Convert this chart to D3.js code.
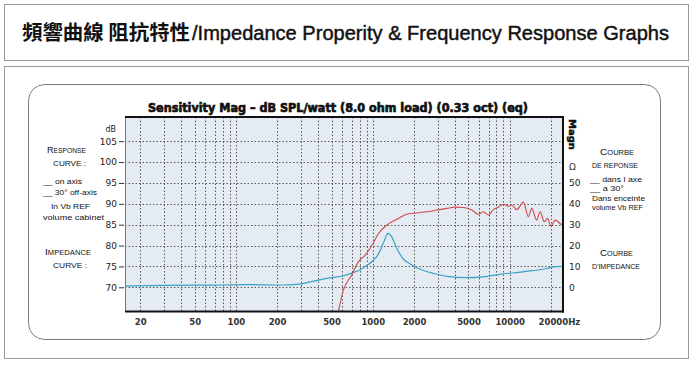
<!DOCTYPE html>
<html>
<head>
<meta charset="utf-8">
<script src="https://cdn.jsdelivr.net/npm/d3@7"></script>
<style>
  body { margin: 0; background: #fff; }
  svg { display: block; }
</style>
</head>
<body>
<div id="chart"></div>
<script>
/*///////////////////////////////////////////////////////////
// Data
///////////////////////////////////////////////////////////*/
var freqTicks = [20, 50, 100, 200, 500, 1000, 2000, 5000, 10000, 20000];
var freqTickLabels = ["20", "50", "100", "200", "500", "1000", "2000", "5000", "10000", "20000Hz"];
var dbTicks = [70, 75, 80, 85, 90, 95, 100, 105];
var ohmTicks = [0, 10, 20, 30, 40, 50];

/*response curve, on axis (Hz, dB)*/
var respFreq = [545, 610, 700, 785, 880, 985, 1100, 1265, 1540, 1770, 2090, 2480, 2930, 3470, 3990, 4590, 5290, 5910, 6430, 6990, 7600, 8270, 9000, 9780, 10340, 11250, 12230, 12580, 13680, 14470, 15740, 16700, 17860, 18890, 19970, 21500, 23340, 24400];
var respDb = [62.0, 69.3, 72.9, 76.1, 77.7, 80.0, 82.9, 84.9, 86.5, 87.5, 87.8, 88.1, 88.5, 88.9, 89.2, 89.1, 88.5, 87.5, 88.1, 87.3, 88.6, 89.2, 89.9, 89.4, 89.7, 88.6, 90.0, 90.4, 86.9, 88.9, 86.1, 88.1, 85.7, 86.5, 84.7, 86.1, 85.3, 84.9];

/*impedance curve (Hz, ohm)*/
var impFreq = [15.5, 20, 30, 50, 80, 120, 150, 200, 250, 300, 350, 400, 500, 600, 700, 800, 900, 1000, 1100, 1200, 1290, 1375, 1500, 1650, 1850, 2100, 2800, 3500, 4800, 6400, 8500, 12500, 18600, 21000, 24500];
var impOhm = [0.6, 0.7, 0.9, 1.0, 1.1, 1.3, 1.2, 1.1, 1.2, 1.6, 2.6, 3.4, 4.6, 5.4, 6.8, 8.2, 10.4, 12.6, 16.0, 21.5, 25.8, 24.2, 18.6, 14.0, 11.4, 9.4, 6.6, 5.2, 4.6, 5.0, 6.2, 7.4, 9.0, 9.8, 10.0];

/*///////////////////////////////////////////////////////////
// Setup
///////////////////////////////////////////////////////////*/
var W = 694, H = 365;
var plot = {left: 125, right: 563, top: 117, bottom: 311.5};

var svg = d3.select("#chart").append("svg")
	.attr("width", W)
	.attr("height", H)
	.style("background", "#fff");

var x = d3.scaleLog().domain([15.5, 24500]).range([plot.left, plot.right]);
var y = d3.scaleLinear().domain([64.2, 110.8]).range([plot.bottom, plot.top]);
/*impedance shares the dB grid: 0 ohm at 70 dB, 10 ohm per 5 dB*/
var yImp = d3.scaleLinear().domain([0, 50]).range([y(70), y(95)]);

/*frames*/
svg.append("rect")
	.attr("x", 4.5).attr("y", 4.5).attr("width", 684).attr("height", 56)
	.attr("fill", "none").attr("stroke", "#9a9a9a");
svg.append("rect")
	.attr("x", 4.5).attr("y", 66.5).attr("width", 684).attr("height", 292)
	.attr("fill", "none").attr("stroke", "#9a9a9a");
svg.append("rect")
	.attr("x", 28.5).attr("y", 84.5).attr("width", 632).attr("height", 255)
	.attr("rx", 16).attr("ry", 16)
	.attr("fill", "none").attr("stroke", "#7a7a7a");

/*header*/
svg.append("text")
	.attr("x", 22).attr("y", 40)
	.attr("textLength", 168).attr("lengthAdjust", "spacingAndGlyphs")
	.style("font-family", "'Noto Sans CJK TC', 'Noto Sans CJK SC', sans-serif")
	.style("font-weight", "bold")
	.style("font-size", "20px")
	.attr("fill", "#111")
	.text("頻響曲線 阻抗特性");
svg.append("text")
	.attr("x", 192).attr("y", 40)
	.attr("textLength", 477).attr("lengthAdjust", "spacingAndGlyphs")
	.style("font-family", "'Liberation Sans Narrow', 'Liberation Sans', Arial, sans-serif")
	.style("font-size", "20px")
	.attr("fill", "#111")
	.attr("stroke", "#111").attr("stroke-width", 0.45)
	.text("/Impedance Properity & Frequency Response Graphs");

/*///////////////////////////////////////////////////////////
// Plot area
///////////////////////////////////////////////////////////*/
svg.append("rect")
	.attr("x", plot.left).attr("y", plot.top)
	.attr("width", plot.right - plot.left).attr("height", plot.bottom - plot.top)
	.attr("fill", "#e4ebf2");

var minorFreqs = [];
[10, 100, 1000, 10000].forEach(function(dec) {
	for (var k = 1; k <= 9; k++) {
		var f = dec * k;
		if (f >= 20 && f <= 20000) minorFreqs.push(f);
	}
});

svg.append("g").selectAll("line")
	.data(minorFreqs)
	.enter().append("line")
	.attr("x1", function(d) { return Math.round(x(d)) + 0.5; })
	.attr("x2", function(d) { return Math.round(x(d)) + 0.5; })
	.attr("y1", plot.top).attr("y2", plot.bottom)
	.attr("stroke", "#4a4a4a")
	.attr("stroke-width", 0.9)
	.attr("stroke-dasharray", "1.5,2");

svg.append("g").selectAll("line")
	.data(dbTicks)
	.enter().append("line")
	.attr("x1", plot.left).attr("x2", plot.right)
	.attr("y1", function(d) { return Math.round(y(d)) + 0.5; })
	.attr("y2", function(d) { return Math.round(y(d)) + 0.5; })
	.attr("stroke", "#4a4a4a")
	.attr("stroke-width", 0.9)
	.attr("stroke-dasharray", "1.5,2");

/*curves, clipped to the plot*/
svg.append("clipPath").attr("id", "clip")
	.append("rect")
	.attr("x", plot.left).attr("y", plot.top)
	.attr("width", plot.right - plot.left).attr("height", plot.bottom - plot.top);

var impLine = d3.line()
	.x(function(d, i) { return x(impFreq[i]); })
	.y(function(d, i) { return yImp(impOhm[i]); })
	.curve(d3.curveMonotoneX);
var respLine = d3.line()
	.x(function(d, i) { return x(respFreq[i]); })
	.y(function(d, i) { return y(respDb[i]); })
	.curve(d3.curveMonotoneX);

svg.append("path")
	.attr("clip-path", "url(#clip)")
	.attr("d", impLine(impFreq))
	.attr("fill", "none")
	.attr("stroke", "#3aa3c4")
	.attr("stroke-width", 1.2);
svg.append("path")
	.attr("clip-path", "url(#clip)")
	.attr("d", respLine(respFreq))
	.attr("fill", "none")
	.attr("stroke", "#cf4a4a")
	.attr("stroke-width", 1.1);

/*borders*/
svg.append("line")
	.attr("x1", plot.left + 0.5).attr("x2", plot.left + 0.5)
	.attr("y1", plot.top).attr("y2", plot.bottom)
	.attr("stroke", "#777").attr("stroke-width", 1);
svg.append("line")
	.attr("x1", plot.left).attr("x2", plot.right + 1)
	.attr("y1", plot.top).attr("y2", plot.top)
	.attr("stroke", "#111").attr("stroke-width", 2);
svg.append("line")
	.attr("x1", plot.left).attr("x2", plot.right + 1)
	.attr("y1", plot.bottom).attr("y2", plot.bottom)
	.attr("stroke", "#111").attr("stroke-width", 2);
svg.append("line")
	.attr("x1", plot.right).attr("x2", plot.right)
	.attr("y1", plot.top - 1).attr("y2", plot.bottom + 1)
	.attr("stroke", "#111").attr("stroke-width", 2);

/*///////////////////////////////////////////////////////////
// Axes
///////////////////////////////////////////////////////////*/
var axisFont = "'DejaVu Sans', Verdana, sans-serif";

var leftAxis = svg.append("g")
	.attr("transform", "translate(" + (plot.left - 1) + ",0)")
	.call(d3.axisLeft(y).tickValues(dbTicks).tickSize(5).tickPadding(2));
leftAxis.select(".domain").remove();
leftAxis.selectAll("line").attr("stroke", "#333");
leftAxis.selectAll("text")
	.style("font-family", axisFont)
	.style("font-size", "9px")
	.attr("fill", "#222");

svg.append("text")
	.attr("x", 116).attr("y", 132)
	.attr("text-anchor", "end")
	.style("font-family", axisFont).style("font-size", "8px")
	.attr("fill", "#222")
	.text("dB");

var rightAxis = svg.append("g")
	.attr("transform", "translate(" + plot.right + ",0)")
	.call(d3.axisRight(yImp).tickValues(ohmTicks).tickSize(0).tickPadding(6));
rightAxis.select(".domain").remove();
rightAxis.selectAll("text")
	.attr("text-anchor", "start")
	.style("font-family", axisFont)
	.style("font-size", "9px")
	.attr("fill", "#222");

svg.append("text")
	.attr("x", 569).attr("y", 170)
	.style("font-family", axisFont).style("font-size", "9px")
	.attr("fill", "#333")
	.text("Ω");

svg.append("text")
	.attr("transform", "translate(569,119) rotate(90)")
	.attr("textLength", 31).attr("lengthAdjust", "spacingAndGlyphs")
	.style("font-family", axisFont).style("font-size", "9px")
	.style("font-weight", "bold")
	.attr("fill", "#111")
	.attr("stroke", "#111").attr("stroke-width", 0.5)
	.text("Magn");

var bottomAxis = svg.append("g")
	.attr("transform", "translate(0," + plot.bottom + ")")
	.call(d3.axisBottom(x).tickValues(freqTicks).tickSize(0).tickPadding(7)
		.tickFormat(function(d, i) { return freqTickLabels[i]; }));
bottomAxis.select(".domain").remove();
bottomAxis.selectAll("text")
	.style("font-family", axisFont)
	.style("font-size", "8.5px")
	.style("font-weight", "bold")
	.attr("fill", "#333")
	.attr("dx", function(d) { return d === 20000 ? 8 : 0; });

/*chart title*/
svg.append("text")
	.attr("x", 338).attr("y", 112)
	.attr("text-anchor", "middle")
	.attr("textLength", 380).attr("lengthAdjust", "spacingAndGlyphs")
	.style("font-family", "'DejaVu Sans', sans-serif")
	.style("font-weight", "bold")
	.style("font-size", "12px")
	.attr("fill", "#111")
	.attr("stroke", "#111").attr("stroke-width", 0.7)
	.text("Sensitivity Mag – dB SPL/watt (8.0 ohm load) (0.33 oct) (eq)");

/*///////////////////////////////////////////////////////////
// Side notes
///////////////////////////////////////////////////////////*/
var noteFont = "'Liberation Sans', Arial, sans-serif";

function note(txt, xPos, yPos, len) {
	var t = svg.append("text")
		.attr("x", xPos).attr("y", yPos)
		.style("font-family", noteFont)
		.style("font-size", "8px")
		.attr("fill", "#111");
	if (len) t.attr("textLength", len).attr("lengthAdjust", "spacingAndGlyphs");
	t.text(txt);
	return t;
}
function capsNote(first, rest, xPos, yPos, len) {
	var t = svg.append("text")
		.attr("x", xPos).attr("y", yPos)
		.style("font-family", noteFont)
		.attr("fill", "#111")
		.attr("textLength", len).attr("lengthAdjust", "spacingAndGlyphs");
	t.append("tspan").style("font-size", "9.5px").text(first);
	t.append("tspan").style("font-size", "7px").text(rest);
	return t;
}

capsNote("R", "ESPONSE", 47, 153, 39);
note("CURVE :", 53, 166, 33);
note("__ on axis", 43, 184, 39);
note("__ 30° off-axis", 43, 195, 54);
note("In Vb REF", 51, 209, 39);
note("volume cabinet", 43, 220, 61);
capsNote("I", "MPEDANCE", 45, 255, 46);
note("CURVE :", 53, 268, 34);

capsNote("C", "OURBE", 600, 155, 34);
note("DE REPONSE", 592, 168, 46);
note("__ dans l axe", 590, 182, 52);
note("__ a 30°", 590, 191, 34);
note("Dans enceinte", 592, 201, 53);
note("volume  Vb REF", 592, 210, 51);
capsNote("C", "OURBE", 600, 256, 33);
note("D'IMPEDANCE", 592, 269, 48);
</script>
</body>
</html>
